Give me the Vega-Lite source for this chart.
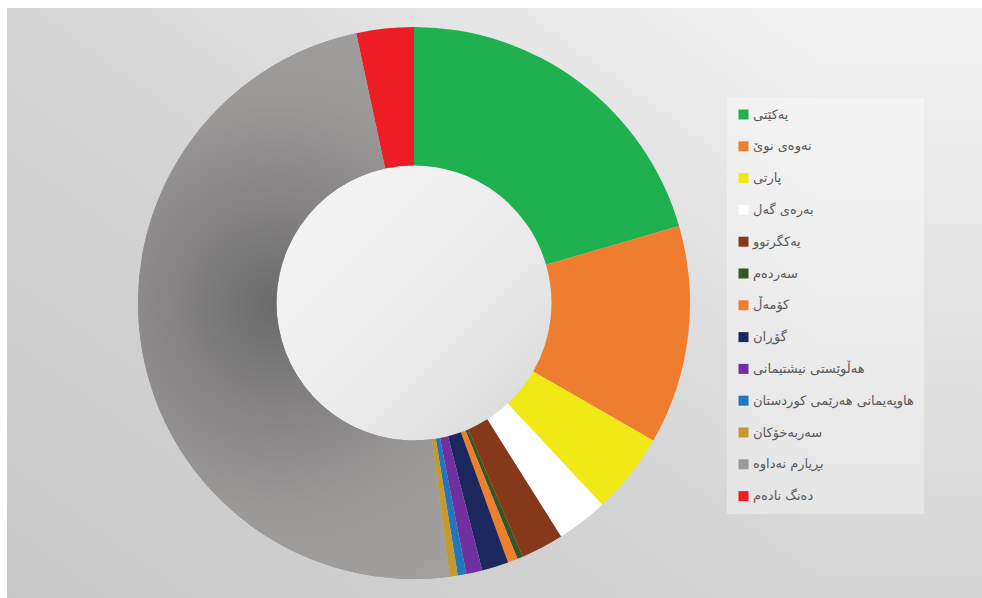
{
  "$schema": "https://vega.github.io/schema/vega-lite/v6.json",
  "background": "white",
  "padding": {"left": 7, "top": 8, "right": 0, "bottom": 0},
  "spacing": 0,
  "datasets": {
    "votes": [
      {"n": 1, "party": "یەکێتی", "pct": 20.5},
      {"n": 2, "party": "نەوەی نوێ", "pct": 12.8},
      {"n": 3, "party": "پارتی", "pct": 4.75},
      {"n": 4, "party": "بەرەی گەل", "pct": 3.0},
      {"n": 5, "party": "یەکگرتوو", "pct": 2.5},
      {"n": 6, "party": "سەردەم", "pct": 0.33},
      {"n": 7, "party": "کۆمەڵ", "pct": 0.58},
      {"n": 8, "party": "گۆڕان", "pct": 1.56},
      {"n": 9, "party": "هەڵوێستی نیشتیمانی", "pct": 0.94},
      {"n": 10, "party": "هاوپەیمانی هەرێمی کوردستان", "pct": 0.5},
      {"n": 11, "party": "سەربەخۆکان", "pct": 0.47},
      {"n": 12, "party": "بڕیارم نەداوە", "pct": 48.7},
      {"n": 13, "party": "دەنگ نادەم", "pct": 3.36}
    ]
  },
  "hconcat": [
    {
      "width": 814,
      "height": 590,
      "view": {
        "stroke": null,
        "fill": {
          "gradient": "linear", "x1": 0, "y1": 1, "x2": 1, "y2": 0,
          "stops": [
            {"offset": 0, "color": "#c8c8c8"},
            {"offset": 0.5, "color": "#d5d5d5"},
            {"offset": 1, "color": "#f3f3f3"}
          ]
        }
      },
      "data": {"name": "votes"},
      "layer": [
        {
          "transform": [{"aggregate": [{"op": "sum", "field": "pct", "as": "total"}]}],
          "mark": {
            "type": "arc", "outerRadius": 137.5, "innerRadius": 0,
            "fill": {
              "gradient": "linear", "x1": 0.1, "y1": 0.1, "x2": 0.9, "y2": 0.9,
              "stops": [
                {"offset": 0, "color": "#f4f4f4"},
                {"offset": 0.6, "color": "#ebebeb"},
                {"offset": 1, "color": "#dcdcdc"}
              ]
            }
          },
          "encoding": {
            "theta": {"field": "total", "type": "quantitative", "stack": true}
          }
        },
        {
          "mark": {"type": "arc", "outerRadius": 276, "innerRadius": 137.5},
          "encoding": {
            "theta": {"field": "pct", "type": "quantitative", "stack": true},
            "order": {"field": "n", "type": "quantitative"},
            "color": {
              "field": "party",
              "type": "nominal",
              "scale": {
                "domain": ["یەکێتی", "نەوەی نوێ", "پارتی", "بەرەی گەل", "یەکگرتوو", "سەردەم", "کۆمەڵ", "گۆڕان", "هەڵوێستی نیشتیمانی", "هاوپەیمانی هەرێمی کوردستان", "سەربەخۆکان", "بڕیارم نەداوە", "دەنگ نادەم"],
                "range": ["#1fb14f", "#ee7d30", "#f1e915", "#ffffff", "#86391a", "#375623", "#ef7f2c", "#1b275d", "#7030a0", "#2276bc", "#c59a2c", "#9a9898", "#ee1d25"]
              },
              "legend": {
                "title": null,
                "orient": "none",
                "legendX": 720,
                "legendY": 90,
                "symbolType": "square",
                "symbolSize": 100,
                "symbolStrokeWidth": 0,
                "labelFont": "DejaVu Sans",
                "labelFontSize": 13,
                "labelColor": "#5a5a5a",
                "labelOffset": 3,
                "labelLimit": 400,
                "rowPadding": 17.8,
                "padding": 10,
                "fillColor": "rgba(255,255,255,0.35)",
                "strokeColor": null
              }
            }
          }
        },
        {
          "mark": {"type": "arc", "outerRadius": 276, "innerRadius": 137.5},
          "encoding": {
            "theta": {"field": "pct", "type": "quantitative", "stack": true},
            "order": {"field": "n", "type": "quantitative"},
            "color": {
              "condition": {
                "test": "datum.party === 'بڕیارم نەداوە'",
                "value": {
                  "gradient": "radial",
                  "x1": 0.47, "y1": 0.5, "r1": 0,
                  "x2": 0.47, "y2": 0.5, "r2": 0.75,
                  "stops": [
                    {"offset": 0, "color": "#6b6a6a"},
                    {"offset": 0.25, "color": "#848282"},
                    {"offset": 0.5, "color": "#9b9998"},
                    {"offset": 1, "color": "#a8a6a5"}
                  ]
                }
              },
              "value": "transparent"
            }
          }
        }
      ]
    },
    {
      "width": 161,
      "height": 590,
      "view": {
        "stroke": null,
        "fill": {
          "gradient": "linear", "x1": 0, "y1": 0, "x2": 0, "y2": 1,
          "stops": [
            {"offset": 0, "color": "#f3f3f3"},
            {"offset": 1, "color": "#d5d5d5"}
          ]
        }
      },
      "data": {"values": []},
      "mark": "point",
      "encoding": {}
    }
  ]
}
